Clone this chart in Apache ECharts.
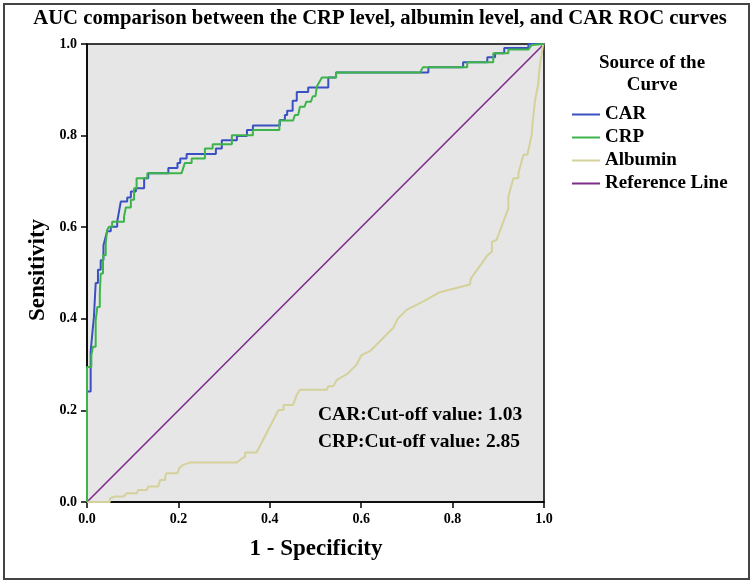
<!DOCTYPE html>
<html>
<head>
<meta charset="utf-8">
<script src="https://cdn.jsdelivr.net/npm/echarts@6/dist/echarts.min.js"></script>
<style>
html,body{margin:0;padding:0;background:#fff;}
#chart{width:753px;height:581px;}
</style>
</head>
<body>
<div id="chart"></div>
<script>
// ---- data (1 - specificity, sensitivity) ----
const carX = [0,0,0.008,0.008,0.012,0.012,0.015,0.015,0.019,0.019,0.024,0.024,0.030,0.030,0.036,0.036,0.040,0.040,0.044,0.044,0.052,0.052,0.066,0.066,0.070,0.070,0.074,0.074,0.088,0.088,0.096,0.096,0.107,0.107,0.125,0.125,0.134,0.134,0.178,0.178,0.198,0.198,0.204,0.204,0.218,0.218,0.282,0.282,0.295,0.295,0.328,0.328,0.350,0.350,0.363,0.363,0.422,0.422,0.433,0.433,0.438,0.438,0.450,0.450,0.459,0.459,0.484,0.484,0.528,0.528,0.545,0.545,0.747,0.747,0.823,0.823,0.876,0.876,0.893,0.893,0.913,0.913,0.966,0.966,1];
const carY = [0,0.241,0.241,0.328,0.328,0.372,0.372,0.402,0.402,0.478,0.478,0.507,0.507,0.528,0.528,0.560,0.560,0.576,0.576,0.591,0.591,0.601,0.601,0.612,0.612,0.634,0.634,0.656,0.656,0.665,0.665,0.678,0.678,0.685,0.685,0.707,0.707,0.718,0.718,0.729,0.729,0.740,0.740,0.750,0.750,0.760,0.760,0.772,0.772,0.790,0.790,0.799,0.799,0.812,0.812,0.822,0.822,0.834,0.834,0.845,0.845,0.854,0.854,0.876,0.876,0.895,0.895,0.905,0.905,0.927,0.927,0.938,0.938,0.949,0.949,0.960,0.960,0.971,0.971,0.980,0.980,0.991,0.991,1,1];

const crpX = [0,0,0.0095,0.0095,0.013,0.013,0.019,0.019,0.0226,0.0226,0.028,0.028,0.030,0.030,0.035,0.035,0.041,0.041,0.044,0.044,0.048,0.048,0.055,0.055,0.081,0.081,0.085,0.085,0.096,0.096,0.103,0.103,0.1085,0.1085,0.132,0.132,0.207,0.214,0.229,0.229,0.258,0.258,0.275,0.275,0.317,0.317,0.363,0.363,0.421,0.421,0.451,0.455,0.462,0.466,0.476,0.480,0.490,0.494,0.500,0.503,0.514,0.545,0.545,0.729,0.735,0.832,0.832,0.889,0.889,0.922,0.922,0.966,0.973,1];
const crpY = [0,0.295,0.295,0.320,0.320,0.339,0.339,0.397,0.397,0.426,0.426,0.456,0.456,0.499,0.499,0.539,0.539,0.565,0.565,0.594,0.594,0.601,0.601,0.612,0.612,0.623,0.623,0.643,0.643,0.660,0.660,0.685,0.685,0.707,0.707,0.718,0.718,0.740,0.740,0.750,0.750,0.772,0.772,0.781,0.781,0.801,0.801,0.812,0.812,0.833,0.833,0.845,0.845,0.863,0.863,0.874,0.874,0.886,0.886,0.907,0.927,0.927,0.938,0.938,0.949,0.949,0.960,0.960,0.980,0.980,0.988,0.988,0.998,1];

const albX = [0,0.050,0.050,0.061,0.080,0.087,0.109,0.112,0.131,0.134,0.156,0.160,0.171,0.171,0.174,0.198,0.202,0.210,0.225,0.328,0.336,0.346,0.346,0.371,0.419,0.430,0.430,0.451,0.459,0.466,0.525,0.528,0.539,0.546,0.570,0.590,0.600,0.620,0.640,0.660,0.670,0.680,0.700,0.720,0.740,0.772,0.838,0.840,0.875,0.886,0.886,0.896,0.922,0.922,0.933,0.944,0.944,0.955,0.9635,0.973,0.975,0.980,0.984,0.9875,0.989,0.992,0.998,1];
const albY = [0,0,0.008,0.012,0.012,0.019,0.019,0.026,0.026,0.034,0.034,0.048,0.048,0.055,0.063,0.063,0.074,0.081,0.086,0.086,0.093,0.099,0.108,0.108,0.201,0.201,0.212,0.212,0.234,0.245,0.245,0.253,0.253,0.266,0.280,0.300,0.320,0.330,0.350,0.370,0.380,0.400,0.420,0.430,0.440,0.458,0.475,0.488,0.537,0.547,0.568,0.572,0.641,0.667,0.707,0.707,0.718,0.758,0.758,0.801,0.827,0.874,0.878,0.914,0.936,0.960,0.998,1];

const refX = [0,1];
const refY = [0,1];

const tickValues = [0,0.2,0.4,0.6,0.8,1.0];
const seriesNames = ['CAR','CRP','Albumin','Reference Line'];
const seriesColors = ['#3a50c2','#3cb44a','#d4d19b','#7e2b8c'];
const titleText = 'AUC comparison between the CRP level, albumin level, and CAR ROC curves';
const noteLines = ['CAR:Cut-off value: 1.03','CRP:Cut-off value: 2.85'];

function zip(xs, ys){ return xs.map((x,i)=>[x, ys[i]]); }

const FONT = "'Liberation Serif','Times New Roman',serif";
const chart = echarts.init(document.getElementById('chart'), null, {renderer:'canvas'});

const dataSets = [zip(carX,carY), zip(crpX,crpY), zip(albX,albY), zip(refX,refY)];
const zs = [3,4,2,1];
const widths = [2,2,2,1.6];

chart.setOption({
  animation:false,
  backgroundColor:'#ffffff',
  grid:{left:87, right:209, top:44, bottom:79, show:true, backgroundColor:'#e6e6e6', borderColor:'#000', borderWidth:1.5},
  xAxis:{type:'value', min:0, max:1, interval:0.2,
    axisLine:{show:true, lineStyle:{color:'#000', width:1.5}},
    axisTick:{show:true, length:6, lineStyle:{color:'#000', width:1.5}},
    splitLine:{show:false},
    axisLabel:{margin:10, color:'#000', fontFamily:FONT, fontWeight:'bold', fontSize:14, formatter:v=>v.toFixed(1)}},
  yAxis:{type:'value', min:0, max:1, interval:0.2,
    axisLine:{show:true, lineStyle:{color:'#000', width:1.5}},
    axisTick:{show:true, length:6, lineStyle:{color:'#000', width:1.5}},
    splitLine:{show:false},
    axisLabel:{margin:10, color:'#000', fontFamily:FONT, fontWeight:'bold', fontSize:14, formatter:v=>v.toFixed(1)}},
  legend:{orient:'vertical', left:572, top:105, padding:0, itemWidth:28, itemHeight:2, itemGap:4, icon:'rect',
    data:seriesNames,
    textStyle:{fontFamily:FONT, fontWeight:'bold', fontSize:19, lineHeight:19, color:'#000', padding:[0,0,0,0]}},
  series: seriesNames.map((n,i)=>({
    name:n, type:'line', data:dataSets[i], symbol:'none', z:zs[i],
    lineStyle:{color:seriesColors[i], width:widths[i]}, itemStyle:{color:seriesColors[i]}
  })),
  graphic:[
    {type:'rect', shape:{x:4,y:4,width:745,height:575}, style:{fill:'none', stroke:'#444', lineWidth:2}, silent:true},
    {type:'text', x:380, y:19, style:{text:titleText, font:"bold 20.7px "+FONT, fill:'#000', textAlign:'center', textVerticalAlign:'middle'}},
    {type:'text', x:652, y:63, style:{text:'Source of the', font:"bold 19px "+FONT, fill:'#000', textAlign:'center', textVerticalAlign:'middle'}},
    {type:'text', x:652, y:85, style:{text:'Curve', font:"bold 19px "+FONT, fill:'#000', textAlign:'center', textVerticalAlign:'middle'}},
    {type:'text', x:318, y:415, z:10, style:{text:noteLines[0], font:"bold 19.5px "+FONT, fill:'#000', textAlign:'left', textVerticalAlign:'middle'}},
    {type:'text', x:318, y:442, z:10, style:{text:noteLines[1], font:"bold 19.5px "+FONT, fill:'#000', textAlign:'left', textVerticalAlign:'middle'}},
    {type:'text', x:316, y:549, style:{text:'1 - Specificity', font:"bold 23px "+FONT, fill:'#000', textAlign:'center', textVerticalAlign:'middle'}},
    {type:'text', x:38, y:270, rotation:Math.PI/2, style:{text:'Sensitivity', font:"bold 23px "+FONT, fill:'#000', textAlign:'center', textVerticalAlign:'middle'}}
  ]
});
</script>
</body>
</html>
